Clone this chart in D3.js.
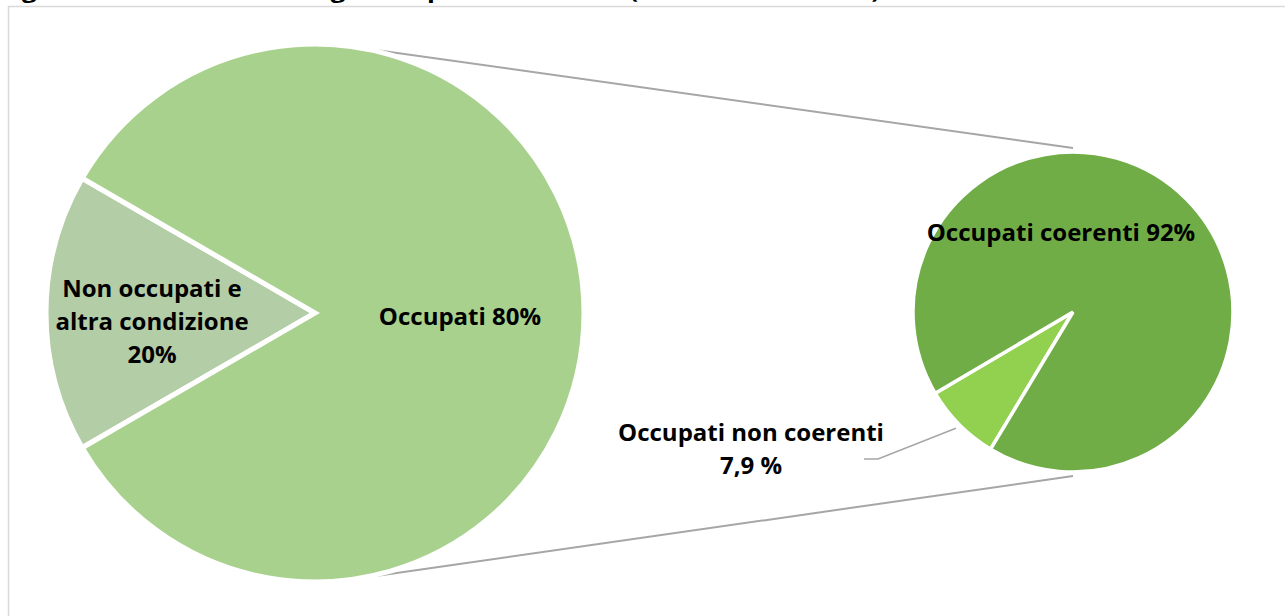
<!DOCTYPE html>
<html>
<head>
<meta charset="utf-8">
<script src="https://cdn.jsdelivr.net/npm/d3@7"></script>
<style>
  html, body { margin: 0; padding: 0; background: #fff; overflow: hidden; }
  svg { display: block; font-family: "Open Sans", "Noto Sans", sans-serif; }
  .lbl { font-weight: bold; fill: #000; }
</style>
</head>
<body>
<div id="chart"></div>
<script>

// ---- data ----
var titleText = "Figura 4.1 – Condizione degli occupati e coerenza (valori assoluti e %)";

// first pie: share drawn on screen + the label written on it
var mainCats   = ["Non occupati e altra condizione", "Occupati"];
var mainShares = [16.7, 83.3];
var mainLabels = [["Non occupati e", "altra condizione", "20%"], ["Occupati 80%"]];
var mainColors = ["#b3cda6", "#a9d18e"];

// second pie: breakdown of "Occupati"
var subCats   = ["Occupati non coerenti", "Occupati coerenti"];
var subShares = [7.9, 92.1];
var subLabels = [["Occupati non coerenti", "7,9 %"], ["Occupati coerenti 92%"]];
var subColors = ["#92d050", "#70ad47"];

var width = 1285, height = 616;
var deg = Math.PI / 180;

var svg = d3.select('#chart').append('svg')
  .attr('width', width)
  .attr('height', height);

// title (cut by the top of the page in the original)
svg.append('text')
  .attr('class', 'lbl')
  .attr('x', 0)
  .attr('y', -2)
  .attr('font-size', 22)
  .attr('textLength', 880)
  .attr('lengthAdjust', 'spacingAndGlyphs')
  .text(titleText);

// chart area frame
svg.append('rect')
  .attr('x', 8.5).attr('y', 6.5)
  .attr('width', 1300).attr('height', 640)
  .attr('fill', 'none')
  .attr('stroke', '#d9d9d9')
  .attr('stroke-width', 1.5);

// ---- geometry ----
var big = { cx: 315, cy: 313, r: 269 };
var small = { cx: 1073, cy: 312, r: 160 };

var pieMain = d3.pie().sort(null)
  .startAngle(270 * deg - mainShares[0] / 100 * Math.PI)
  .endAngle(270 * deg - mainShares[0] / 100 * Math.PI + 2 * Math.PI);

var pieSub = d3.pie().sort(null)
  .startAngle(211 * deg)
  .endAngle(211 * deg + 2 * Math.PI);

var arcBig = d3.arc().innerRadius(0).outerRadius(big.r);
var arcSmall = d3.arc().innerRadius(0).outerRadius(small.r);

// helper: point on a circle, d3 angle convention (0 = up, clockwise)
function polar(c, a, r) {
  return [c.cx + r * Math.sin(a), c.cy - r * Math.cos(a)];
}

// connector lines between the two pies
var conn = svg.append('g').attr('class', 'connectors');
[[13, 0], [167, 180]].forEach(function (p) {
  var a = polar(big, p[0] * deg, big.r + 1);
  var b = polar(small, p[1] * deg, small.r + 4);
  conn.append('line')
    .attr('x1', a[0]).attr('y1', a[1])
    .attr('x2', b[0]).attr('y2', b[1])
    .attr('stroke', '#a6a6a6')
    .attr('stroke-width', 2);
});

// first pie
var gBig = svg.append('g')
  .attr('transform', 'translate(' + big.cx + ',' + big.cy + ')');

gBig.selectAll('path')
  .data(pieMain(mainShares))
  .enter().append('path')
  .attr('d', arcBig)
  .attr('fill', function (d, i) { return mainColors[i]; })
  .attr('stroke', '#fff')
  .attr('stroke-width', 5)
  .attr('stroke-linejoin', 'miter');

// second pie
var gSmall = svg.append('g')
  .attr('transform', 'translate(' + small.cx + ',' + small.cy + ')');

var subArcs = pieSub(subShares);

gSmall.selectAll('path')
  .data(subArcs)
  .enter().append('path')
  .attr('d', arcSmall)
  .attr('fill', function (d, i) { return subColors[i]; })
  .attr('stroke', '#fff')
  .attr('stroke-width', 3.5)
  .attr('stroke-linejoin', 'miter');

// ---- labels ----
function multiLabel(g, lines, x, y, lh) {
  var t = g.append('text')
    .attr('class', 'lbl')
    .attr('font-size', 24)
    .attr('text-anchor', 'middle');
  lines.forEach(function (s, i) {
    t.append('tspan').attr('x', x).attr('y', y + i * lh).text(s);
  });
  return t;
}

var lh = 33;
// label anchors (offset from pie centres, as placed in the original)
multiLabel(gBig, mainLabels[0], -163, -16, lh);
multiLabel(gBig, mainLabels[1], 145, 12, lh);
multiLabel(gSmall, subLabels[1], -12, -71, lh);
multiLabel(svg, subLabels[0], 751, 441, lh);

// leader line for the small slice
var mid = (subArcs[0].startAngle + subArcs[0].endAngle) / 2;
var tip = polar(small, mid, small.r + 5);
svg.append('polyline')
  .attr('points', [[864, 459], [878, 459], tip].map(function (p) { return p.join(','); }).join(' '))
  .attr('fill', 'none')
  .attr('stroke', '#a6a6a6')
  .attr('stroke-width', 1.6);

</script>
</body>
</html>
